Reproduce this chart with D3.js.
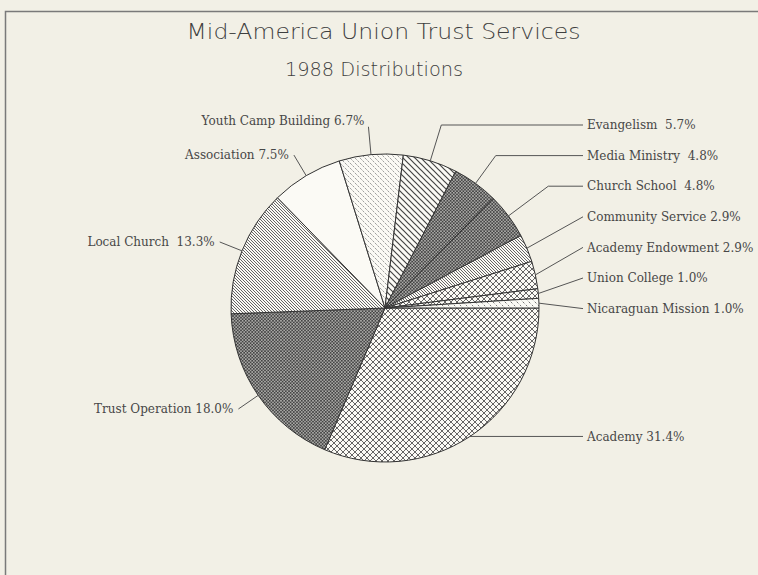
<!DOCTYPE html>
<html>
<head>
<meta charset="utf-8">
<script src="https://cdn.jsdelivr.net/npm/d3@7"></script>
<style>
  html, body { margin: 0; padding: 0; background: #f2f0e6; }
  svg { display: block; }
</style>
</head>
<body>
<div id="container"></div>
<script>
//DATA
// slices in drawing order, clockwise from 3 o'clock
const categories = ["Academy", "Trust Operation", "Local Church", "Association",
  "Youth Camp Building", "Evangelism", "Media Ministry", "Church School",
  "Community Service", "Academy Endowment", "Union College", "Nicaraguan Mission"];
const shares = [31.4, 18.0, 13.3, 7.5, 6.7, 5.7, 4.8, 4.8, 2.9, 2.9, 1.0, 1.0];
// label texts as printed (some have a double space before the number)
const labelTexts = ["Academy 31.4%", "Trust Operation 18.0%", "Local Church  13.3%",
  "Association 7.5%", "Youth Camp Building 6.7%", "Evangelism  5.7%",
  "Media Ministry  4.8%", "Church School  4.8%", "Community Service 2.9%",
  "Academy Endowment 2.9%", "Union College 1.0%", "Nicaraguan Mission 1.0%"];
const titleText = "Mid-America Union Trust Services";
const subtitleText = "1988 Distributions";

//SVG
const width = 758;
const height = 575;
const cx = 385, cy = 308, radius = 154;

const svg = d3.select("div#container").append("svg")
    .attr("width", width)
    .attr("height", height);

svg.append("rect")
    .attr("width", width).attr("height", height)
    .attr("fill", "#f2f0e6");

// frame (top and left edges visible)
svg.append("path")
    .attr("d", "M5.5," + height + "V11.5H" + width)
    .attr("fill", "none")
    .attr("stroke", "#7a7a7a")
    .attr("stroke-width", 1.5);

//PATTERNS
const defs = svg.append("defs");

function hatch(id, size, stroke, sw, cross, dash) {
  const p = defs.append("pattern")
      .attr("id", id)
      .attr("patternUnits", "userSpaceOnUse")
      .attr("width", size).attr("height", size);
  p.append("rect").attr("width", size).attr("height", size).attr("fill", "#fbfaf5");
  // "\" direction
  p.append("path")
      .attr("d", "M0,0L" + size + "," + size + "M" + (-size) + ",0L" + size + "," + (2 * size) +
                 "M0," + (-size) + "L" + (2 * size) + "," + size)
      .attr("stroke", stroke).attr("stroke-width", sw)
      .attr("stroke-dasharray", dash || null);
  if (cross) {
    p.append("path")
        .attr("d", "M0," + size + "L" + size + ",0M" + (-size) + "," + size + "L" + size + "," + (-size) +
                   "M0," + (2 * size) + "L" + (2 * size) + ",0")
        .attr("stroke", stroke).attr("stroke-width", sw);
  }
}

hatch("diamond", 6, "#555", 0.9, true);
hatch("darkcross", 3.2, "#444", 1.05, true);
hatch("fineline", 3, "#555", 0.9, false);
hatch("lightline", 5, "#888", 0.8, false, "2.5,1");
hatch("boldline", 6, "#444", 1.2, false);
hatch("sparse", 6, "#666", 0.9, false, "2,2");

const fills = ["url(#diamond)", "url(#darkcross)", "url(#fineline)", "#fbfaf5",
  "url(#lightline)", "url(#boldline)", "url(#darkcross)", "url(#darkcross)",
  "url(#fineline)", "url(#diamond)", "url(#diamond)", "url(#sparse)"];

//PIE
const pie = d3.pie()
    .sort(null)
    .value(function(d) { return d; })
    .startAngle(Math.PI / 2)
    .endAngle(Math.PI / 2 + 2 * Math.PI);

const arc = d3.arc().innerRadius(0).outerRadius(radius);
const arcs = pie(shares);

const g = svg.append("g").attr("transform", "translate(" + cx + "," + cy + ")");

g.selectAll("path.slice")
    .data(arcs)
    .enter().append("path")
      .attr("class", "slice")
      .attr("d", arc)
      .attr("fill", function(d, i) { return fills[i]; })
      .attr("stroke", "#333")
      .attr("stroke-width", 1)
      .attr("stroke-linejoin", "round");

//LABELS
const labelX = 587;      // right column text start
const rightTop = 125;    // first stacked right label
const rightStep = 30.6;

const leaders = svg.append("g")
    .attr("fill", "none")
    .attr("stroke", "#555")
    .attr("stroke-width", 1);
const labels = svg.append("g")
    .attr("font-family", "'DejaVu Serif', serif")
    .attr("font-size", 12)
    .attr("fill", "#474747");

// keep the double spaces of the original print
function nb(s) { return s.replace(/  /g, " \u00a0"); }

let k = 0;
arcs.forEach(function(d, i) {
  const a = (d.startAngle + d.endAngle) / 2;
  const dx = Math.sin(a), dy = -Math.cos(a);
  const px = cx + radius * dx, py = cy + radius * dy;

  if (dx > 0) {
    // right side
    let ly;
    if (dy < 0.2) { ly = rightTop + k * rightStep; k++; }
    else ly = py;
    const pts = [[px, py]];
    const t = (py - ly) / (-dy);
    if (dy < 0 && t > 0) {
      const ex = px + dx * t;
      if (ex < labelX - 12) pts.push([ex, ly]);
    }
    pts.push([labelX - 4, ly]);
    leaders.append("path").attr("d", d3.line()(pts));
    labels.append("text")
        .attr("x", labelX).attr("y", ly)
        .attr("dy", "0.35em")
        .text(nb(labelTexts[i]));
  } else {
    // left side, radial leader
    const vertical = Math.abs(dx) < 0.3;
    const L = vertical ? 28 : 24;
    const ex = px + dx * L, ey = py + dy * L;
    leaders.append("path").attr("d", d3.line()([[px, py], [ex, ey]]));
    labels.append("text")
        .attr("x", ex - (vertical ? 4 : 5))
        .attr("y", vertical ? ey - 6 : ey)
        .attr("dy", "0.35em")
        .attr("text-anchor", "end")
        .text(nb(labelTexts[i]));
  }
});

//TITLES
svg.append("text")
    .attr("x", 383.5).attr("y", 39)
    .attr("text-anchor", "middle")
    .attr("font-family", "'DejaVu Sans', sans-serif")
    .attr("font-weight", 200)
    .attr("font-size", 21.5)
    .attr("fill", "#3f3f3f")
    .attr("textLength", 394)
    .attr("lengthAdjust", "spacingAndGlyphs")
    .text(titleText);

svg.append("text")
    .attr("x", 374).attr("y", 76)
    .attr("text-anchor", "middle")
    .attr("font-family", "'DejaVu Sans', sans-serif")
    .attr("font-weight", 200)
    .attr("font-size", 19.5)
    .attr("fill", "#3f3f3f")
    .attr("textLength", 178)
    .attr("lengthAdjust", "spacingAndGlyphs")
    .text(subtitleText);
</script>
</body>
</html>
